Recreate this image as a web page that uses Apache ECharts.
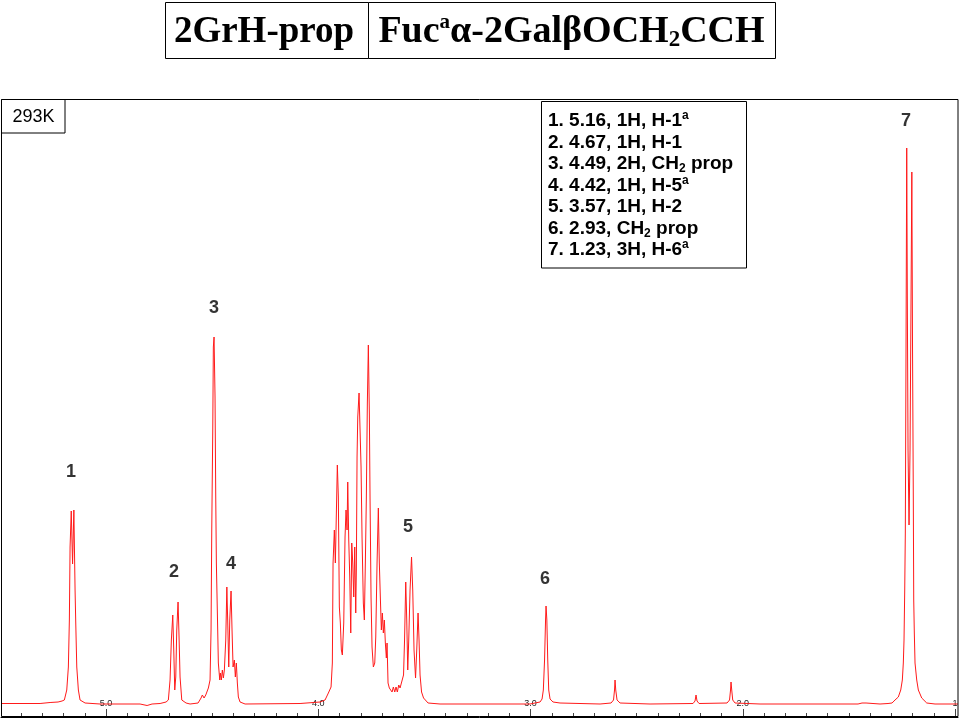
<!DOCTYPE html>
<html><head><meta charset="utf-8">
<script src="https://cdn.jsdelivr.net/npm/echarts@6/dist/echarts.min.js"></script>
<style>html,body{margin:0;padding:0;background:#fff}#c{width:960px;height:720px}</style>
</head><body><div id="c"></div>
<script>
// chemical shift (ppm) and relative intensity
const shiftPpm = [5.495,5.3109,5.2638,5.2261,5.2073,5.1965,5.1852,5.1776,5.1729,5.1696,5.1640,5.1578,5.1517,5.1460,5.1428,5.1380,5.1305,5.1225,5.0989,5.0283,4.8398,4.8068,4.7833,4.7456,4.7173,4.7065,4.6985,4.6923,4.6857,4.6810,4.6763,4.6716,4.6669,4.6608,4.6561,4.6514,4.6433,4.6231,4.6042,4.5665,4.5524,4.5463,4.5383,4.5303,4.5180,4.5100,4.5053,4.5020,4.4973,4.4945,4.4912,4.4865,4.4832,4.4803,4.4756,4.4709,4.4643,4.4615,4.4568,4.4521,4.4473,4.4426,4.4360,4.4309,4.4266,4.4219,4.4172,4.4111,4.4064,4.4016,4.3955,4.3908,4.3861,4.3814,4.3767,4.3687,4.3451,4.0860,3.9918,3.9682,3.9526,3.9399,3.9338,3.9305,3.9244,3.9197,3.9140,3.9103,3.9055,3.9008,3.8961,3.8914,3.8867,3.8801,3.8740,3.8693,3.8645,3.8613,3.8565,3.8518,3.8471,3.8424,3.8377,3.8330,3.8283,3.8236,3.8207,3.8174,3.8141,3.8080,3.8033,3.7986,3.7939,3.7878,3.7830,3.7783,3.7736,3.7689,3.7642,3.7595,3.7562,3.7515,3.7468,3.7406,3.7340,3.7293,3.7232,3.7171,3.7124,3.7077,3.7029,3.6982,3.6935,3.6888,3.6841,3.6794,3.6761,3.6714,3.6653,3.6587,3.6525,3.6464,3.6398,3.6337,3.6276,3.6210,3.6148,3.6054,3.5984,3.5936,3.5880,3.5833,3.5786,3.5739,3.5677,3.5607,3.5550,3.5489,3.5418,3.5362,3.5300,3.5253,3.5206,3.5135,3.5041,3.4829,3.4264,3.0024,2.9552,2.9458,2.9397,2.9340,2.9293,2.9270,2.9232,2.9190,2.9143,2.9081,2.8940,2.8610,2.6726,2.6207,2.6090,2.6043,2.6019,2.5986,2.5925,2.5783,2.4370,2.2344,2.2250,2.2203,2.2156,2.2061,2.0742,2.0624,2.0577,2.0554,2.0521,2.0474,2.0365,1.9187,1.4570,1.4382,1.4288,1.4193,1.4099,1.3534,1.3157,1.2968,1.2827,1.2672,1.2558,1.2483,1.2436,1.2403,1.2370,1.2342,1.2309,1.2276,1.2247,1.2214,1.2167,1.2120,1.2073,1.2035,1.2002,1.1965,1.1946,1.1918,1.1885,1.1805,1.1729,1.1569,1.1333,1.0942,0.9859];
const intensity = [0.5,0.5,1.5,2,3,4,14,37,84,157,193,140,194,114,81,37,14,4,1,0,0,-1.5,0,0.5,2,4,24,64,89,54,14,27,74,102,67,27,4,1,0,1,6,9,6,9,16,24,74,174,274,357,367,307,207,141,91,41,24,31,24,34,26,34,64,117,81,37,84,113,74,37,44,27,41,21,7,2,0,0.5,2,4,11,17,41,141,174,141,200,239,207,97,81,54,49,81,167,194,174,222,164,127,71,161,141,107,157,91,134,247,287,311,274,237,167,101,84,141,207,301,359,291,207,107,57,37,41,67,141,196,141,107,74,91,71,84,61,46,61,21,16,17,12,17,12,17,12,19,16,18,29,64,122,84,34,64,114,147,114,54,26,54,91,64,29,12,6,1,0,0,2,5,14,44,84,98,84,44,14,5,2,1,0,1,4,14,24,14,4,1,0,0.5,3,9,3,0.5,1,4,14,22,14,4,1,0,0,1,0,1,0,0,0.5,1,4,7,14,24,41,64,114,171,354,556,404,254,179,254,404,532,354,204,104,71,41,24,14,6,1,0,0];

// peak numbering labels: number, shift, label height
const peakNumbers = ['1','2','3','4','5','6','7'];
const peakLabelPpm = [5.1649,4.6796,4.4912,4.4111,3.5772,2.9317,1.2309];
const peakLabelHeight = [232,132,396,140,177,125,583];

// axis ticks
const majorTickValues = [1,2,3,4,5];
const majorTickLabels = ['1','2.0','3.0','4.0','5.0'];
const minorTickValues = [1.1,1.2,1.3,1.4,1.5,1.6,1.7,1.8,1.9,2.1,2.2,2.3,2.4,2.5,2.6,2.7,2.8,2.9,3.1,3.2,3.3,3.4,3.5,3.6,3.7,3.8,3.9,4.1,4.2,4.3,4.4,4.5,4.6,4.7,4.8,4.9,5.1,5.2,5.3,5.4];

// assignment legend lines
const legendLines = [
  '{m|1. 5.16, 1H, H-1}{sup|a}',
  '{m|2. 4.67, 1H, H-1}',
  '{m|3. 4.49, 2H, CH}{sub|2}{m| prop}',
  '{m|4. 4.42, 1H, H-5}{sup|a}',
  '{m|5. 3.57, 1H, H-2}',
  '{m|6. 2.93, CH}{sub|2}{m| prop}',
  '{m|7. 1.23, 3H, H-6}{sup|a}'
];
const titleLeft = '2GrH-prop';
const titleRight = '{m|Fuc}{sup|a}{m|α-2GalβOCH}{sub|2}{m|CCH}';
const tempLabel = '293K';

const chart = echarts.init(document.getElementById('c'), null, {renderer:'canvas'});
const lineData = shiftPpm.map((p,i)=>[p,intensity[i]]);
const labelData = peakLabelPpm.map((p,i)=>({value:[p,peakLabelHeight[i]], name:peakNumbers[i]}));

const legRich = {
  m:{fontFamily:'Liberation Sans',fontWeight:'bold',fontSize:19,lineHeight:22,color:'#000'},
  sup:{fontFamily:'Liberation Sans',fontWeight:'bold',fontSize:12,lineHeight:10,verticalAlign:'top',color:'#000'},
  sub:{fontFamily:'Liberation Sans',fontWeight:'bold',fontSize:12,lineHeight:8,verticalAlign:'bottom',color:'#000'}
};
const legendGraphics = legendLines.map((t,i)=>({
  type:'text', x:548, y:121+21.5*i, z:100,
  style:{text:t, rich:legRich, align:'left', verticalAlign:'middle'}
}));

const xBase = {
  type:'value', inverse:true, min:0.986, max:5.495,
  splitLine:{show:false}
};

chart.setOption({
  animation:false,
  backgroundColor:'#fff',
  grid:{left:1, right:2, top:99, bottom:3, outerBoundsMode:'none', containLabel:false},
  xAxis:[
    Object.assign({}, xBase, {
      position:'bottom',
      axisLine:{show:true, onZero:false, lineStyle:{color:'#000', width:1}},
      axisTick:{show:true, inside:true, length:8, lineStyle:{color:'#444'}, customValues:majorTickValues},
      axisLabel:{show:true, inside:true, margin:9, fontSize:9, color:'#222', fontFamily:'Liberation Sans',
        customValues:majorTickValues,
        formatter:(v)=>{const i=majorTickValues.indexOf(Math.round(v)); return i>=0?majorTickLabels[i]:'';}}
    }),
    Object.assign({}, xBase, {
      position:'bottom',
      axisLine:{show:false, onZero:false},
      axisTick:{show:true, inside:true, length:4, lineStyle:{color:'#444'}, customValues:minorTickValues},
      axisLabel:{show:false}
    })
  ],
  yAxis:{type:'value', min:-13, max:605, show:false, splitLine:{show:false}},
  series:[
    {type:'line', xAxisIndex:0, data:lineData, showSymbol:false, symbol:'none',
     lineStyle:{color:'#ff1a1a', width:1}, silent:true, z:2},
    {type:'scatter', xAxisIndex:0, data:labelData, symbolSize:0, silent:true, z:5,
     label:{show:true, position:'inside', formatter:(p)=>p.name, fontFamily:'Liberation Sans',
       fontWeight:'bold', fontSize:18, color:'#000'}}
  ],
  graphic:[
    {type:'rect', z:90, shape:{x:1.5,y:99.5,width:956.5,height:617}, style:{fill:'none',stroke:'#000',lineWidth:1}},
    {type:'rect', z:90, shape:{x:1.5,y:99.5,width:63.5,height:33.5}, style:{fill:'#fff',stroke:'#000',lineWidth:1}},
    {type:'text', z:100, x:33.5, y:117, style:{text:tempLabel, font:'18px "Liberation Sans"', fill:'#000', align:'center', verticalAlign:'middle'}},
    {type:'rect', z:90, shape:{x:541.5,y:101.5,width:205,height:166.5}, style:{fill:'#fff',stroke:'#000',lineWidth:1}},
    ...legendGraphics,
    {type:'rect', z:90, shape:{x:165.5,y:2.5,width:203,height:56}, style:{fill:'#fff',stroke:'#000',lineWidth:1}},
    {type:'rect', z:90, shape:{x:368.5,y:2.5,width:407,height:56}, style:{fill:'#fff',stroke:'#000',lineWidth:1}},
    {type:'text', z:100, x:264, y:32, style:{text:titleLeft, font:'bold 37px "Liberation Serif"', fill:'#000', align:'center', verticalAlign:'middle'}},
    {type:'text', z:100, x:571.5, y:32, style:{text:titleRight, align:'center', verticalAlign:'middle',
      rich:{
        m:{fontFamily:'Liberation Serif',fontWeight:'bold',fontSize:38,lineHeight:40,color:'#000'},
        sup:{fontFamily:'Liberation Serif',fontWeight:'bold',fontSize:21,lineHeight:18,verticalAlign:'top',color:'#000'},
        sub:{fontFamily:'Liberation Serif',fontWeight:'bold',fontSize:23,lineHeight:14,verticalAlign:'bottom',color:'#000'}
      }}}
  ]
});
</script></body></html>
